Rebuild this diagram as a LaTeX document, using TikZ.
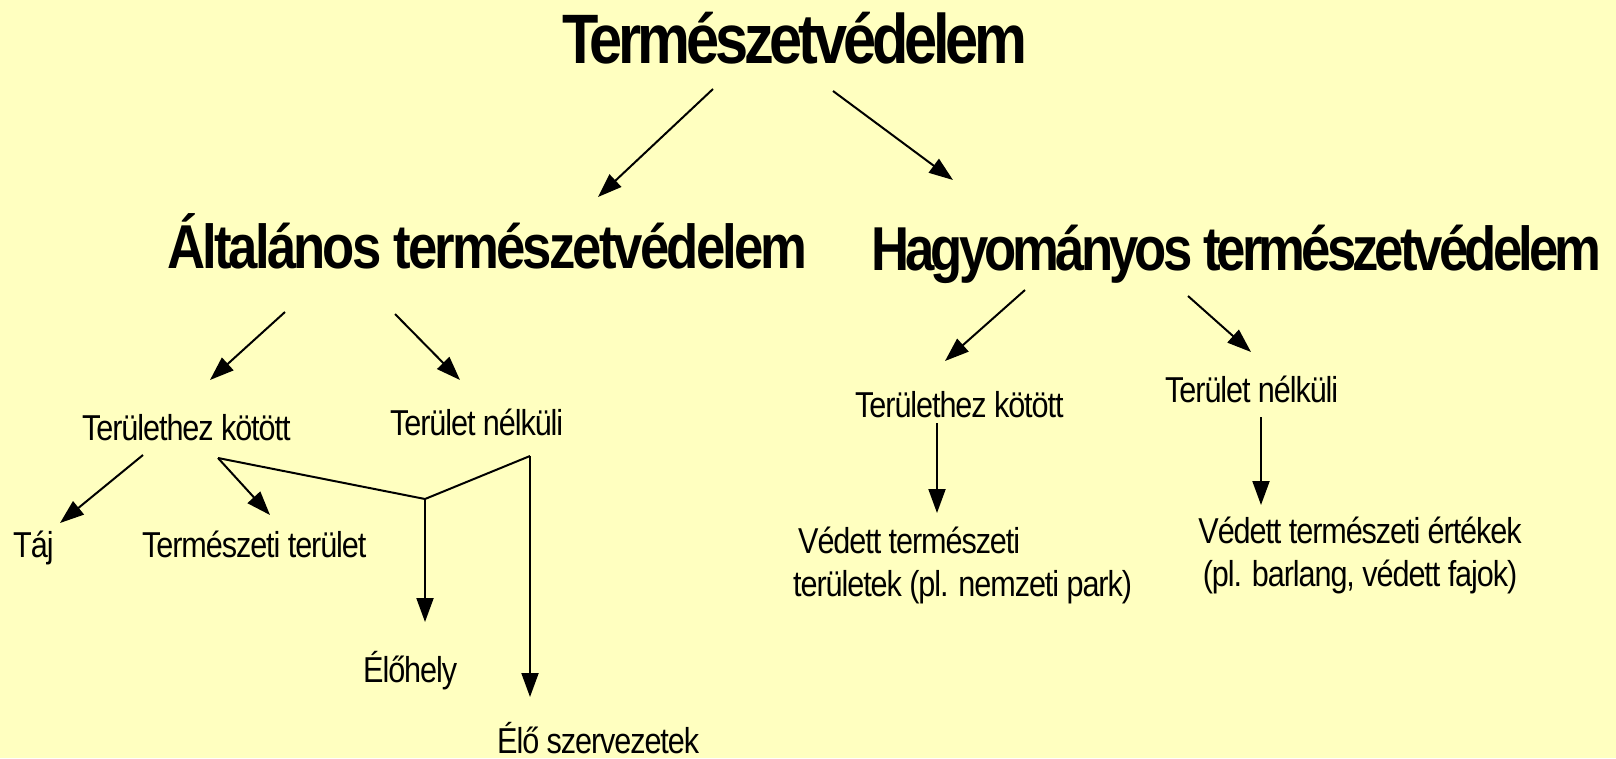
\documentclass[tikz,border=0pt]{standalone}
\usepackage{fontspec}
\setmainfont{Liberation Sans}[FakeStretch=0.85, LetterSpace=-3]
\newfontfamily\titlefont{Liberation Sans Bold}[FakeStretch=0.85, LetterSpace=-6]
\newfontfamily\headfont{Liberation Sans Bold}[FakeStretch=0.85, LetterSpace=-4.6]
\newfontfamily\headfontb{Liberation Sans Bold}[FakeStretch=0.85, LetterSpace=-6.3]
\usetikzlibrary{arrows.meta}
\definecolor{bg}{RGB}{255,255,192}
\tikzset{
  lbl/.style={inner sep=0pt, anchor=base west, font=\fontsize{36}{42.5}\selectfont},
  ttl/.style={inner sep=0pt, anchor=base west, font=\titlefont\fontsize{70}{80}\selectfont},
  hd/.style={inner sep=0pt, anchor=base west, font=\headfont\fontsize{62}{70}\selectfont},
  hdb/.style={inner sep=0pt, anchor=base west, font=\headfontb\fontsize{62}{70}\selectfont},
  arr/.style={line width=2pt, -{Triangle[length=24pt,width=17pt]}},
  ln/.style={line width=2pt}
}
\begin{document}
\begin{tikzpicture}[x=1pt,y=-1pt]
\fill[bg] (0,0) rectangle (1616,758);
\useasboundingbox (0,0) rectangle (1616,758);
% texts
\node[ttl] (title) at (562,63) {Természetvédelem};
\node[hd] (alt) at (167,268) {Általános természetvédelem};
\node[hdb] (hag) at (871,270) {Hagyományos természetvédelem};
\node[lbl] (ltk) at (82,440) {Területhez kötött};
\node[lbl] (ltn) at (390,435) {Terület nélküli};
\node[lbl] (taj) at (13,557) {Táj};
\node[lbl] (term) at (142,557) {Természeti terület};
\node[lbl] (eloh) at (363,682) {Élőhely};
\node[lbl] (elosz) at (497,753) {Élő szervezetek};
\node[lbl] (rtk) at (855,417) {Területhez kötött};
\node[lbl] (rtn) at (1165,402) {Terület nélküli};
\node[lbl, align=left] (vtt) at (793,596) {\hspace*{5pt}Védett természeti\\területek (pl. nemzeti park)};
\node[lbl, align=center, anchor=base] (vte) at (1360,586) {Védett természeti értékek\\(pl. barlang, védett fajok)};
% connector end points
\coordinate (c1s) at (713,89);   \coordinate (c1e) at (598,197);
\coordinate (c2s) at (833,91);   \coordinate (c2e) at (953,180);
\coordinate (c3s) at (285,312);  \coordinate (c3e) at (210,380);
\coordinate (c4s) at (395,314);  \coordinate (c4e) at (460,380);
\coordinate (c5s) at (1025,290); \coordinate (c5e) at (945,361);
\coordinate (c6s) at (1188,296); \coordinate (c6e) at (1251,352);
\coordinate (c7s) at (143,455);  \coordinate (c7e) at (60,523);
\coordinate (c8s) at (218,458);  \coordinate (c8e) at (270,515);
\coordinate (j1) at (425,499);
\coordinate (ltnj) at (530,456);
\coordinate (eloht) at (425,622);
\coordinate (eloszt) at (530,697);
\coordinate (c9s) at (937,423);  \coordinate (c9e) at (937,513);
\coordinate (c10s) at (1261,417); \coordinate (c10e) at (1261,505);
% connectors
\draw[arr] (c1s) -- (c1e);
\draw[arr] (c2s) -- (c2e);
\draw[arr] (c3s) -- (c3e);
\draw[arr] (c4s) -- (c4e);
\draw[arr] (c5s) -- (c5e);
\draw[arr] (c6s) -- (c6e);
\draw[arr] (c7s) -- (c7e);
\draw[arr] (c8s) -- (c8e);
\draw[ln, line join=miter] (c8s) -- (j1) -- (ltnj);
\draw[arr] (j1) -- (eloht);
\draw[arr] (ltnj) -- (eloszt);
\draw[arr] (c9s) -- (c9e);
\draw[arr] (c10s) -- (c10e);
\end{tikzpicture}
\end{document}
